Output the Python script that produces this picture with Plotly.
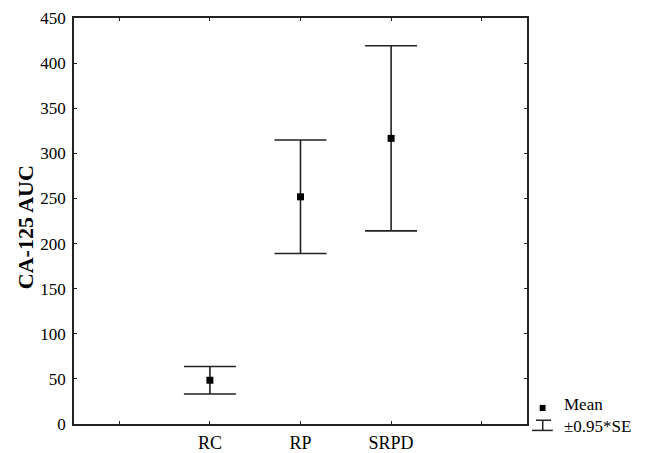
import plotly.graph_objects as go

categories = ["RC", "RP", "SRPD"]
means = [48.5, 251.8, 316.6]
errors = [15.2, 62.9, 102.6]   # ±0.95*SE
y_ticks = [0, 50, 100, 150, 200, 250, 300, 350, 400, 450]

positions = [0, 1, 2]
FONT = "Liberation Serif, Times New Roman, serif"
LINE = "#222222"

fig = go.Figure()
fig.add_trace(go.Scatter(
    x=positions, y=means, mode="markers",
    marker=dict(symbol="square", size=7, color="black"),
    error_y=dict(type="data", array=errors, visible=True,
                 color=LINE, thickness=1.6, width=26),
    showlegend=False,
))

# page body has a default 8px margin, so the figure is offset by 8px
fig.update_layout(
    width=647, height=453,
    margin=dict(l=66, r=128, t=10, b=37, autoexpand=False),
    paper_bgcolor="white", plot_bgcolor="white",
    font=dict(family=FONT, size=17, color="black"),
    xaxis=dict(
        range=[-1.5, 3.5],
        tickmode="array", tickvals=[-1, 0, 1, 2, 3],
        ticktext=["", "RC", "RP", "SRPD", ""],
        ticks="inside", ticklen=3, tickwidth=1.2, tickcolor=LINE,
        showline=True, linecolor=LINE, linewidth=1.5, mirror="allticks",
        showgrid=False, zeroline=False, automargin=False,
        tickfont=dict(size=18), ticklabelstandoff=2,
    ),
    yaxis=dict(
        range=[0, 450],
        tickmode="array", tickvals=y_ticks,
        ticks="inside", ticklen=3, tickwidth=1.2, tickcolor=LINE,
        showline=True, linecolor=LINE, linewidth=1.5, mirror="allticks",
        showgrid=False, zeroline=False, automargin=False,
        tickfont=dict(size=17), ticklabelstandoff=3,
        ticklabeloverflow="allow",
    ),
)

# y-axis title
fig.add_annotation(xref="paper", yref="paper", x=-0.108, y=0.485,
                   text="<b>CA-125 AUC</b>", textangle=-90, showarrow=False,
                   xanchor="center", yanchor="middle", font=dict(size=22))

# custom legend (paper coordinates)
fig.add_shape(type="rect", xref="paper", yref="paper",
              x0=1.028, x1=1.041, y0=0.032, y1=0.047,
              fillcolor="black", line=dict(width=0))
for (x0, x1, y0, y1) in [(1.0199, 1.053, 0.0092, 0.0092),
                         (1.0347, 1.0347, 0.0092, -0.0158),
                         (1.011, 1.057, -0.0158, -0.0158)]:
    fig.add_shape(type="line", xref="paper", yref="paper",
                  x0=x0, x1=x1, y0=y0, y1=y1,
                  line=dict(color=LINE, width=1.5))
fig.add_annotation(xref="paper", yref="paper", x=1.0766, y=0.02,
                   text="Mean<br>±0.95*SE", showarrow=False, xanchor="left",
                   yanchor="middle", align="left", font=dict(size=17))

fig.write_html("out.html")
